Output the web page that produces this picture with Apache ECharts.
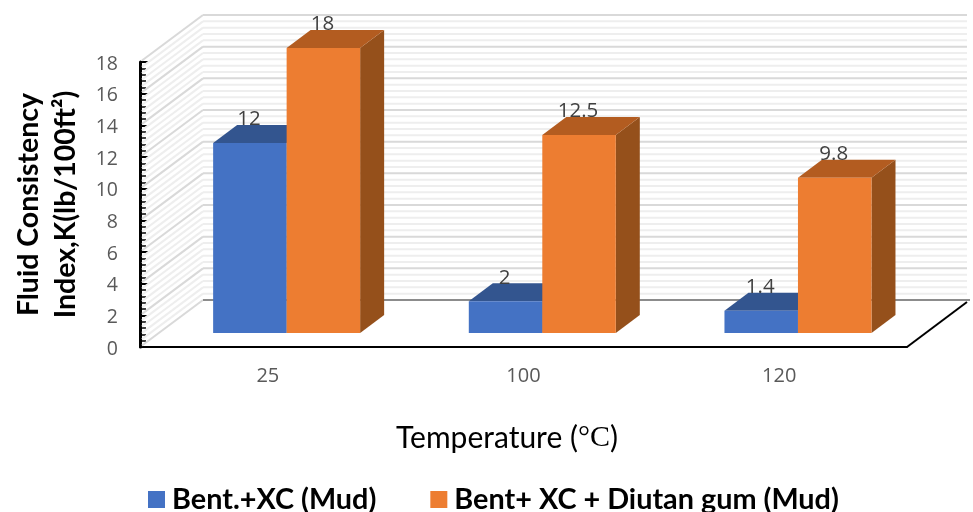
<!DOCTYPE html>
<html><head><meta charset="utf-8">
<style>html,body{margin:0;padding:0;background:#fff}#c{width:973px;height:512px}</style>
<script src="https://cdn.jsdelivr.net/npm/echarts@6/dist/echarts.min.js"></script>
</head><body><div id="c"></div>
<script>
const categories = ['25', '100', '120'];
const mudXC = [12, 2, 1.4];
const mudDiutan = [18, 12.5, 9.8];
const seriesNames = ['Bent.+XC (Mud)', 'Bent+ XC + Diutan gum (Mud)'];
const majorTicks = [0, 2, 4, 6, 8, 10, 12, 14, 16, 18];
const minorTicks = [0.4, 0.8, 1.2, 1.6, 2.4, 2.8, 3.2, 3.6, 4.4, 4.8, 5.2, 5.6, 6.4, 6.8, 7.2, 7.6, 8.4, 8.8, 9.2, 9.6, 10.4, 10.8, 11.2, 11.6, 12.4, 12.8, 13.2, 13.6, 14.4, 14.8, 15.2, 15.6, 16.4, 16.8, 17.2, 17.6];

const DX = 63, DY = 47;           // wall depth
const FX = 18.8, FY = 14;         // bar front plane offset from the axis plane
const BX = 24, BY = 18;           // bar depth
const BAR = 0.2875;               // bar width, share of a category band
const colors = [
  {front: '#4472C4', top: '#33558F', side: '#33558F'},
  {front: '#ED7D31', top: '#B35C20', side: '#95501B'}
];

function gridItem(style) {
  return function (params, api) {
    const cs = params.coordSys;
    const y = api.coord([0, api.value(0)])[1];
    const l = cs.x + 2, t = y - DY * (l - cs.x) / DX;
    return {type: 'group', children: [
      {type: 'line', shape: {x1: l, y1: t, x2: cs.x + DX, y2: y - DY}, style: style},
      {type: 'line', shape: {x1: cs.x + DX, y1: y - DY, x2: cs.x + cs.width + DX - 3, y2: y - DY}, style: style}
    ]};
  };
}
function floorItem(params, api) {
  const cs = params.coordSys, y0 = cs.y + cs.height, x0 = cs.x, x1 = cs.x + cs.width;
  return {type: 'group', children: [
    {type: 'line', shape: {x1: x0 + DX, y1: y0 - DY, x2: x1 + DX, y2: y0 - DY}, style: {stroke: '#8C8C8C', lineWidth: 2}},
    {type: 'line', shape: {x1: x1, y1: y0, x2: x1 + DX - 3, y2: y0 - DY + 2}, style: {stroke: '#000', lineWidth: 2}}
  ]};
}
function barItem(si) {
  return function (params, api) {
    const band = api.size([1, 0])[0], w = band * BAR;
    const val = api.value(1);
    const top = api.coord([api.value(0), val]);
    const base = api.coord([api.value(0), 0]);
    const l = top[0] + FX + (si === 0 ? -w : 0), r = l + w;
    const yt = top[1] - FY, yb = base[1] - FY;
    const c = colors[si];
    return {type: 'group', children: [
      {type: 'polygon', shape: {points: [[r, yt], [r + BX, yt - BY], [r + BX, yb - BY], [r, yb]]}, style: {fill: c.side}},
      {type: 'polygon', shape: {points: [[l, yt], [r, yt], [r + BX, yt - BY], [l + BX, yt - BY]]}, style: {fill: c.top}},
      {type: 'rect', shape: {x: l, y: yt, width: w, height: yb - yt}, style: {fill: c.front}},
      {type: 'text', style: {text: String(val), x: (l + r) / 2 - 1, y: yt - BY - 5.5, align: 'center', verticalAlign: 'middle',
        fontFamily: 'Open Sans', fontSize: 20.5, fill: '#404040'}}
    ]};
  };
}

const chart = echarts.init(document.getElementById('c'), null, {renderer: 'canvas'});
chart.setOption({
  animation: false,
  backgroundColor: '#fff',
  grid: {left: 140, top: 62, width: 767, height: 285, containLabel: false, outerBoundsMode: 'none'},
  legend: {
    left: 143, top: 480, itemWidth: 17, itemHeight: 17, itemGap: 54, icon: 'rect',
    textStyle: {fontFamily: 'Lato', fontWeight: 'bold', fontSize: 28.8, color: '#000', padding: [0, 0, 0, 2]},
    data: seriesNames
  },
  xAxis: {
    type: 'category', data: categories, boundaryGap: true,
    axisLine: {lineStyle: {color: '#000', width: 2}},
    axisTick: {show: false},
    axisLabel: {fontFamily: 'Open Sans', fontSize: 20, color: '#595959', margin: 19},
    name: '{a|Temperature (}{b|°C}{a|)}', nameLocation: 'middle', nameGap: 76,
    nameTextStyle: {padding: [0, 33, 0, 0], rich: {
      a: {fontFamily: 'Lato', fontSize: 30, color: '#000'},
      b: {fontFamily: 'Liberation Serif', fontSize: 30, color: '#000'}
    }}
  },
  yAxis: {
    type: 'value', min: 0, max: 18, interval: 2,
    axisLine: {show: true, lineStyle: {color: '#000', width: 3}},
    axisTick: {show: true, inside: true, length: 8, lineStyle: {color: '#000', width: 2}},
    minorTick: {show: true, splitNumber: 5, length: 6, lineStyle: {color: '#000', width: 1.5}},
    splitLine: {show: false},
    axisLabel: {margin: 22, formatter: '{v|{value}}', rich: {
      v: {fontFamily: 'Open Sans', fontSize: 19.5, color: '#595959', padding: [4, 0, 0, 0]}
    }},
    name: 'Fluid Consistency\nIndex,K(lb/100ft²)', nameLocation: 'middle', nameGap: 52, nameRotate: 90,
    nameTextStyle: {fontFamily: 'Lato', fontWeight: 'bold', fontSize: 28.5, lineHeight: 37, color: '#000'}
  },
  series: [
    {type: 'custom', name: 'minor', silent: true, z: 1, coordinateSystem: 'cartesian2d',
     data: minorTicks.map(v => [v]), encode: {y: 0}, renderItem: gridItem({stroke: '#EEEEEE', lineWidth: 2})},
    {type: 'custom', name: 'major', silent: true, z: 1, coordinateSystem: 'cartesian2d',
     data: majorTicks.map(v => [v]), encode: {y: 0}, renderItem: gridItem({stroke: '#D9D9D9', lineWidth: 2})},
    {type: 'custom', name: 'floor', silent: true, z: 2, coordinateSystem: 'cartesian2d',
     data: [[0]], encode: {y: 0}, renderItem: floorItem},
    {type: 'custom', name: seriesNames[0], z: 3, coordinateSystem: 'cartesian2d', itemStyle: {color: colors[0].front},
     data: mudXC.map((v, i) => [i, v]), encode: {x: 0, y: 1}, renderItem: barItem(0)},
    {type: 'custom', name: seriesNames[1], z: 4, coordinateSystem: 'cartesian2d', itemStyle: {color: colors[1].front},
     data: mudDiutan.map((v, i) => [i, v]), encode: {x: 0, y: 1}, renderItem: barItem(1)}
  ]
});
</script></body></html>
